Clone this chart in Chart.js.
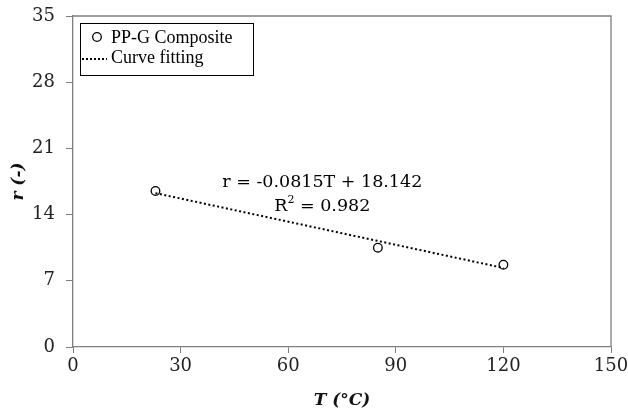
<!DOCTYPE html>
<html>
<head>
<meta charset="utf-8">
<script src="https://cdn.jsdelivr.net/npm/chart.js@4.4.1/dist/chart.umd.min.js"></script>
<style>
  html, body { margin: 0; padding: 0; background: #fff; }
  #wrap { width: 628px; height: 415px; }
</style>
</head>
<body>
<div id="wrap"><canvas id="chart" width="628" height="415"></canvas></div>
<script>
// measured values
const tempC = [23, 85, 120];
const ratio = [16.5, 10.5, 8.7];
// fitted line end points (r = -0.0815T + 18.142)
const fitT = [23, 120];
const fitR = [16.27, 8.36];
const xTicks = [0, 30, 60, 90, 120, 150];
const yTicks = [0, 7, 14, 21, 28, 35];
const legendLabels = ['PP-G Composite', 'Curve fitting'];
const eqLine = 'r = -0.0815T + 18.142';
const r2Value = '0.982';

const tickFont = { family: 'DejaVu Serif', size: 18 };
const axisGray = '#7f7f7f';

// labels should not push the plot area around
function noLabelPadding(s) {
    s.paddingTop = 0; s.paddingBottom = 0; s.paddingLeft = 0; s.paddingRight = 0;
}

// frame + legend + equation
const extras = {
    id: 'extras',
    afterDraw(chart) {
        const ctx = chart.ctx;
        const a = chart.chartArea;
        ctx.save();
        ctx.strokeStyle = axisGray;
        ctx.lineWidth = 1.3;
        ctx.beginPath();
        ctx.moveTo(a.left, a.top);
        ctx.lineTo(a.right, a.top);
        ctx.lineTo(a.right, a.bottom);
        ctx.stroke();

        // legend box
        const lx = a.left + 7, ly = a.top + 7;
        ctx.strokeStyle = '#000';
        ctx.lineWidth = 1;
        ctx.strokeRect(lx + 0.5, ly + 0.5, 173, 52);
        ctx.fillStyle = '#000';
        ctx.font = '18px "Liberation Serif"';
        ctx.textBaseline = 'middle';
        ctx.beginPath();
        ctx.arc(lx + 17, ly + 14, 4.3, 0, Math.PI * 2);
        ctx.lineWidth = 1.3;
        ctx.stroke();
        ctx.fillText(legendLabels[0], lx + 31, ly + 15);
        ctx.setLineDash([2, 2]);
        ctx.lineWidth = 2;
        ctx.beginPath();
        ctx.moveTo(lx + 2, ly + 36);
        ctx.lineTo(lx + 27, ly + 36);
        ctx.stroke();
        ctx.setLineDash([]);
        ctx.fillText(legendLabels[1], lx + 31, ly + 35);

        // equation
        const xs = chart.scales.x, ys = chart.scales.y;
        const cx = xs.getPixelForValue(69.5);
        ctx.font = '17.5px "DejaVu Serif"';
        ctx.textAlign = 'center';
        ctx.fillText(eqLine, cx, ys.getPixelForValue(17.4));
        // R² line with a real superscript
        const y2 = ys.getPixelForValue(14.85);
        const rest = ' = ' + r2Value;
        ctx.font = '17.5px "DejaVu Serif"';
        const wR = ctx.measureText('R').width;
        const wRest = ctx.measureText(rest).width;
        ctx.font = '11px "DejaVu Serif"';
        const wSup = ctx.measureText('2').width;
        const total = wR + wSup + wRest;
        let x0 = cx - total / 2;
        ctx.textAlign = 'left';
        ctx.font = '17.5px "DejaVu Serif"';
        ctx.fillText('R', x0, y2);
        ctx.font = '11px "DejaVu Serif"';
        ctx.fillText('2', x0 + wR, y2 - 6);
        ctx.font = '17.5px "DejaVu Serif"';
        ctx.fillText(rest, x0 + wR + wSup, y2);
        ctx.restore();
    }
};

new Chart(document.getElementById('chart'), {
    type: 'scatter',
    data: {
        datasets: [
            {
                label: legendLabels[1],
                type: 'line',
                data: fitT.map((t, i) => ({ x: t, y: fitR[i] })),
                borderColor: '#000',
                borderWidth: 2,
                borderDash: [2, 2.5],
                pointRadius: 0,
                fill: false
            },
            {
                label: legendLabels[0],
                data: tempC.map((t, i) => ({ x: t, y: ratio[i] })),
                pointRadius: 4.3,
                pointBorderWidth: 1.3,
                borderColor: '#000',
                backgroundColor: '#fff'
            }
        ]
    },
    options: {
        responsive: false,
        animation: false,
        layout: { padding: { top: 16, right: 17, left: 0, bottom: 0 } },
        plugins: { legend: { display: false }, tooltip: { enabled: false } },
        scales: {
            x: {
                type: 'linear',
                min: 0, max: 150,
                afterBuildTicks: s => { s.ticks = xTicks.map(v => ({ value: v })); },
                afterFit: s => { s.height = 68; noLabelPadding(s); },
                grid: { drawOnChartArea: false, color: axisGray, tickLength: 6, tickColor: axisGray },
                border: { color: axisGray, width: 1.3 },
                ticks: { font: tickFont, color: '#222', padding: 3, maxRotation: 0 },
                title: {
                    display: true, text: 'T (°C)', color: '#111',
                    font: { family: 'DejaVu Serif', size: 17, weight: 'bold', style: 'italic' },
                    padding: { top: 0 }
                }
            },
            y: {
                min: 0, max: 35,
                afterBuildTicks: s => { s.ticks = yTicks.map(v => ({ value: v })); },
                afterFit: s => { s.width = 73; noLabelPadding(s); },
                grid: { drawOnChartArea: false, color: axisGray, tickLength: 7, tickColor: axisGray },
                border: { color: axisGray, width: 1.3 },
                ticks: { font: tickFont, color: '#222', padding: 11 },
                title: {
                    display: true, text: 'r (-)', color: '#111',
                    font: { family: 'DejaVu Serif', size: 17, weight: 'bold', style: 'italic' },
                    padding: { top: 8, bottom: 0 }
                }
            }
        }
    },
    plugins: [extras]
});
</script>
</body>
</html>
